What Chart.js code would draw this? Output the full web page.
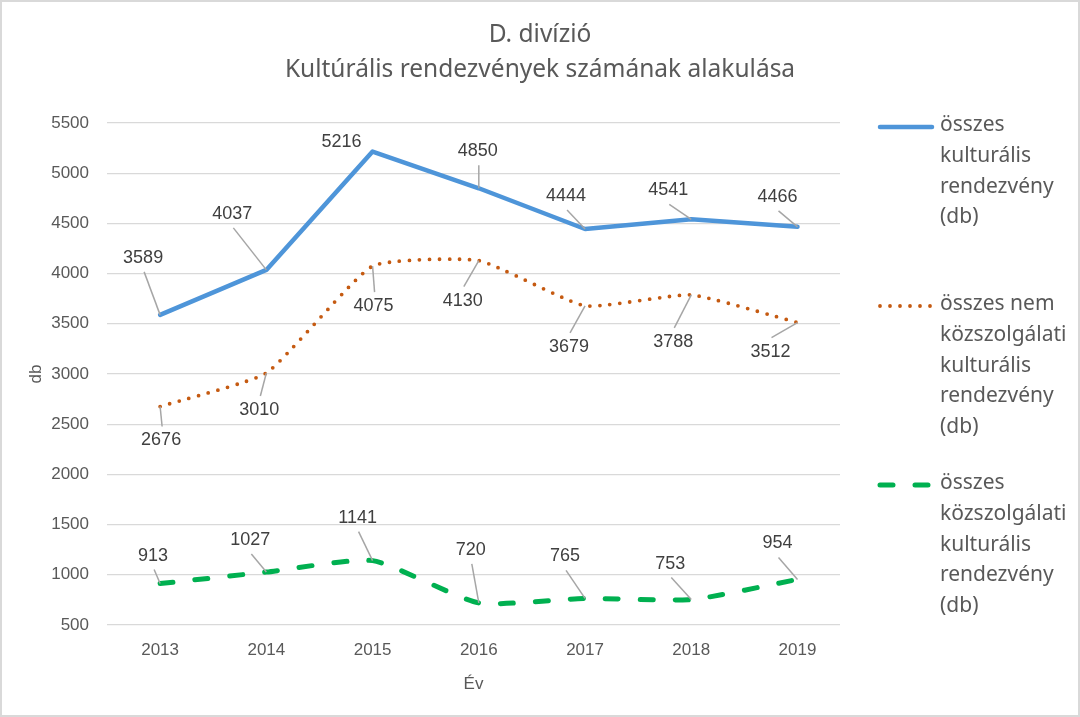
<!DOCTYPE html>
<html>
<head>
    <title>D. divízió - Kultúrális rendezvények</title>
    <style>
        body { margin: 0; background: #fff; }
        #chart { display: block; }
    </style>
</head>
<body>
<canvas id="chart" width="1080" height="717"></canvas>

<script src="https://cdn.jsdelivr.net/npm/chart.js"></script>
<script>
    const years = ['2013', '2014', '2015', '2016', '2017', '2018', '2019'];
    const totalEvents = [3589, 4037, 5216, 4850, 4444, 4541, 4466];
    const nonPublicEvents = [2676, 3010, 4075, 4130, 3679, 3788, 3512];
    const publicEvents = [913, 1027, 1141, 720, 765, 753, 954];
    const seriesNames = [
        'összes kulturális rendezvény (db)',
        'összes nem közszolgálati kulturális rendezvény (db)',
        'összes közszolgálati kulturális rendezvény (db)'
    ];
    const legendLines = [
        ['összes', 'kulturális', 'rendezvény', '(db)'],
        ['összes nem', 'közszolgálati', 'kulturális', 'rendezvény', '(db)'],
        ['összes', 'közszolgálati', 'kulturális', 'rendezvény', '(db)']
    ];
    const titleLines = ['D. divízió', 'Kultúrális rendezvények számának alakulása'];
    const yMin = 500, yMax = 5500, yStep = 500;

    const textGrey = '#595959';
    const labelFont = '18px "Liberation Sans", Arial, sans-serif';

    // chart background, outer border and the title centred on the whole canvas
    const frame = {
        id: 'frame',
        beforeDraw(chart) {
            const ctx = chart.ctx;
            ctx.save();
            ctx.fillStyle = '#fff';
            ctx.fillRect(0, 0, chart.width, chart.height);
            ctx.strokeStyle = '#d9d9d9';
            ctx.lineWidth = 2;
            ctx.strokeRect(1, 1, chart.width - 2, chart.height - 2);
            ctx.fillStyle = textGrey;
            ctx.font = '24.5px "Noto Sans", sans-serif';
            ctx.textAlign = 'center';
            ctx.textBaseline = 'middle';
            titleLines.forEach((t, i) => ctx.fillText(t, chart.width / 2, 35 + i * 35));
            ctx.restore();
        }
    };

    // excel style data labels with leader lines
    const dataLabels = {
        id: 'dataLabels',
        afterDatasetsDraw(chart) {
            const ctx = chart.ctx;
            ctx.save();
            ctx.font = labelFont;
            ctx.textAlign = 'center';
            ctx.textBaseline = 'middle';
            chart.data.datasets.forEach((ds, i) => {
                const meta = chart.getDatasetMeta(i);
                meta.data.forEach((pt, j) => {
                    const [dx, dy] = ds.labelOffsets[j];
                    const cx = pt.x + dx, cy = pt.y + dy;
                    if (Math.abs(dy) > 16) {
                        const ey = dy < 0 ? cy + 14 : cy - 14;
                        ctx.strokeStyle = '#a6a6a6';
                        ctx.lineWidth = 1.5;
                        ctx.beginPath();
                        ctx.moveTo(pt.x, pt.y);
                        ctx.lineTo(cx + 1, ey);
                        ctx.stroke();
                    }
                    ctx.fillStyle = '#404040';
                    ctx.fillText(String(ds.data[j].y), cx, cy);
                });
            });
            ctx.restore();
        }
    };

    // legend with wrapped text on the right
    const sideLegend = {
        id: 'sideLegend',
        afterDraw(chart, args, opts) {
            const ctx = chart.ctx;
            ctx.save();
            ctx.font = '21px "Noto Sans", sans-serif';
            ctx.textBaseline = 'middle';
            chart.data.datasets.forEach((ds, i) => {
                const y0 = opts.startY[i];
                ctx.strokeStyle = ds.borderColor;
                ctx.lineWidth = ds.borderWidth;
                ctx.lineCap = 'round';
                ctx.setLineDash(ds.borderDash || []);
                ctx.beginPath();
                ctx.moveTo(opts.x, y0 + 2);
                ctx.lineTo(opts.x + 52, y0 + 2);
                ctx.stroke();
                ctx.setLineDash([]);
                ctx.fillStyle = textGrey;
                legendLines[i].forEach((line, k) => {
                    ctx.fillText(line, opts.x + 60, y0 + k * 30.8);
                });
            });
            ctx.restore();
        }
    };

    const points = arr => arr.map((v, i) => ({ x: i, y: v }));
    const tickFont = { family: '"Liberation Sans", Arial, sans-serif', size: 17 };

    new Chart(document.getElementById('chart'), {
        type: 'line',
        data: {
            datasets: [
                {
                    label: seriesNames[0],
                    data: points(totalEvents),
                    borderColor: '#4e95d9',
                    borderWidth: 4.5,
                    tension: 0,
                    borderJoinStyle: 'round',
                    borderCapStyle: 'round',
                    labelOffsets: [[-17, -57], [-34, -56], [-31, -9], [-1, -37], [-19, -33], [-23, -29], [-20, -30]]
                },
                {
                    label: seriesNames[1],
                    data: points(nonPublicEvents),
                    borderColor: '#c55a11',
                    borderWidth: 3.8,
                    borderDash: [0, 10],
                    borderCapStyle: 'round',
                    tension: 0.15,
                    labelOffsets: [[1, 34], [-7, 37], [1, 40], [-16, 40], [-16, 41], [-18, 47], [-27, 29]]
                },
                {
                    label: seriesNames[2],
                    data: points(publicEvents),
                    borderColor: '#00b050',
                    borderWidth: 5,
                    borderDash: [13, 22],
                    borderCapStyle: 'round',
                    tension: 0.18,
                    labelOffsets: [[-7, -28], [-16, -32], [-15, -43], [-8, -53], [-20, -42], [-21, -36], [-20, -36]]
                }
            ]
        },
        options: {
            responsive: false,
            animation: false,
            elements: { point: { radius: 0, hoverRadius: 0 } },
            layout: { padding: { left: 0, right: 240, top: 123, bottom: 0 } },
            plugins: {
                legend: { display: false },
                tooltip: { enabled: false },
                title: { display: false },
                sideLegend: { x: 880, startY: [125, 304, 483] }
            },
            scales: {
                x: {
                    type: 'linear',
                    min: -0.5,
                    max: 6.4,
                    grid: { display: false },
                    border: { display: false },
                    ticks: {
                        stepSize: 1,
                        includeBounds: false,
                        autoSkip: false,
                        maxRotation: 0,
                        padding: 7,
                        color: textGrey,
                        font: tickFont,
                        callback: v => Number.isInteger(v) ? years[v] : ''
                    },
                    title: {
                        display: true,
                        text: 'Év',
                        color: textGrey,
                        font: tickFont,
                        padding: { top: 0, bottom: 22 }
                    },
                    afterFit: s => { s.height = 92; }
                },
                y: {
                    min: yMin,
                    max: yMax,
                    grid: { color: '#d9d9d9', lineWidth: 1.3, drawTicks: false },
                    border: { display: false },
                    ticks: {
                        stepSize: yStep,
                        padding: 18,
                        color: textGrey,
                        font: tickFont,
                        callback: v => String(v)
                    },
                    title: {
                        display: true,
                        text: 'db',
                        color: textGrey,
                        font: tickFont,
                        padding: { top: 26, bottom: 0 }
                    },
                    afterFit: s => { s.width = 107; }
                }
            }
        },
        plugins: [frame, dataLabels, sideLegend]
    });
</script>

</body>
</html>
